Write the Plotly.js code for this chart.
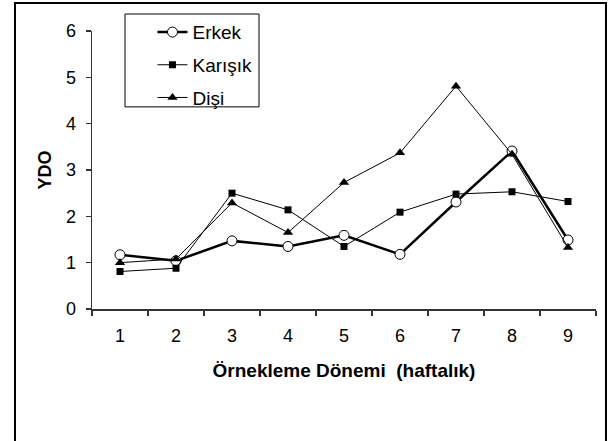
<!DOCTYPE html>
<html>
<head>
<meta charset="utf-8">
<script src="https://cdn.plot.ly/plotly-3.0.1.min.js"></script>
<style>
html,body{margin:0;padding:0;background:#fff;}
#chart{width:611px;height:441px;}
</style>
</head>
<body>
<div id="chart"></div>
<script>
const periods = ["1","2","3","4","5","6","7","8","9"];
const erkek   = [1.17, 1.04, 1.47, 1.35, 1.59, 1.18, 2.31, 3.41, 1.49];
const karisik = [0.81, 0.88, 2.50, 2.14, 1.35, 2.09, 2.48, 2.53, 2.32];
const disi    = [1.00, 1.08, 2.29, 1.65, 2.73, 3.37, 4.81, 3.34, 1.33];
const yTicks  = [0, 1, 2, 3, 4, 5, 6];

const FONT = "Liberation Sans, Arial, sans-serif";

const traces = [
  {x: periods, y: erkek, name: "Erkek", type: "scatter", mode: "lines+markers",
   legendgroup: "a",
   line: {color: "#000", width: 2.5},
   marker: {symbol: "circle", size: 10, color: "#fff", line: {color: "#000", width: 1}}},
  {x: periods, y: karisik, name: "Karışık", type: "scatter", mode: "lines+markers",
   legendgroup: "b",
   line: {color: "#000", width: 1},
   marker: {symbol: "square", size: 7, color: "#000"}},
  {x: periods, y: disi, name: "Dişi", type: "scatter", mode: "lines+markers",
   legendgroup: "c",
   line: {color: "#000", width: 1},
   marker: {symbol: "triangle-up", size: 9, color: "#000"}}
];

const layout = {
  width: 611, height: 441,
  margin: {l: 92, r: 15, t: 31, b: 131.5, pad: 0},
  paper_bgcolor: "#fff", plot_bgcolor: "#fff",
  font: {family: FONT, size: 18, color: "#000"},
  showlegend: true,
  legend: {
    x: 0.12, y: 1.064, xanchor: "left", yanchor: "top",
    bgcolor: "rgba(0,0,0,0)", borderwidth: 0,
    tracegroupgap: 5, itemwidth: 30,
    font: {family: FONT, size: 19, color: "#000"}
  },
  xaxis: {
    type: "category", range: [-0.5, 8.5],
    showline: true, linecolor: "#333", linewidth: 1.5,
    ticks: "outside", ticklen: 5, tickcolor: "#333", tickwidth: 1.5,
    tickson: "boundaries",
    showgrid: false, zeroline: false,
    tickfont: {family: FONT, size: 18, color: "#000"},
    ticklabelstandoff: 10,
    title: {text: "<b>Örnekleme Dönemi  (haftalık)</b>", font: {family: FONT, size: 19, color: "#000"}, standoff: 18}
  },
  yaxis: {
    range: [0, 6], tickvals: yTicks,
    showline: true, linecolor: "#333", linewidth: 1.5,
    ticks: "outside", ticklen: 5, tickcolor: "#333", tickwidth: 1.5,
    showgrid: false, zeroline: false,
    tickfont: {family: FONT, size: 18, color: "#000"},
    ticklabelstandoff: 6,
    title: {text: "<b>YDO</b>", font: {family: FONT, size: 18, color: "#000"}, standoff: 9}
  },
  shapes: [
    {type: "rect", xref: "paper", yref: "paper",
     x0: -0.1528, x1: 1.0198, y0: -0.6, y1: 1.1005,
     line: {color: "#000", width: 2}, fillcolor: "rgba(0,0,0,0)"},
    {type: "rect", xref: "paper", yref: "paper",
     x0: (125 - 92) / 504, x1: (259 - 92) / 504,
     y0: (309.5 - 107) / 278.5, y1: (309.5 - 14) / 278.5,
     line: {color: "#000", width: 1}, fillcolor: "rgba(0,0,0,0)"}
  ]
};

Plotly.newPlot("chart", traces, layout, {displayModeBar: false, staticPlot: true});
</script>
</body>
</html>
